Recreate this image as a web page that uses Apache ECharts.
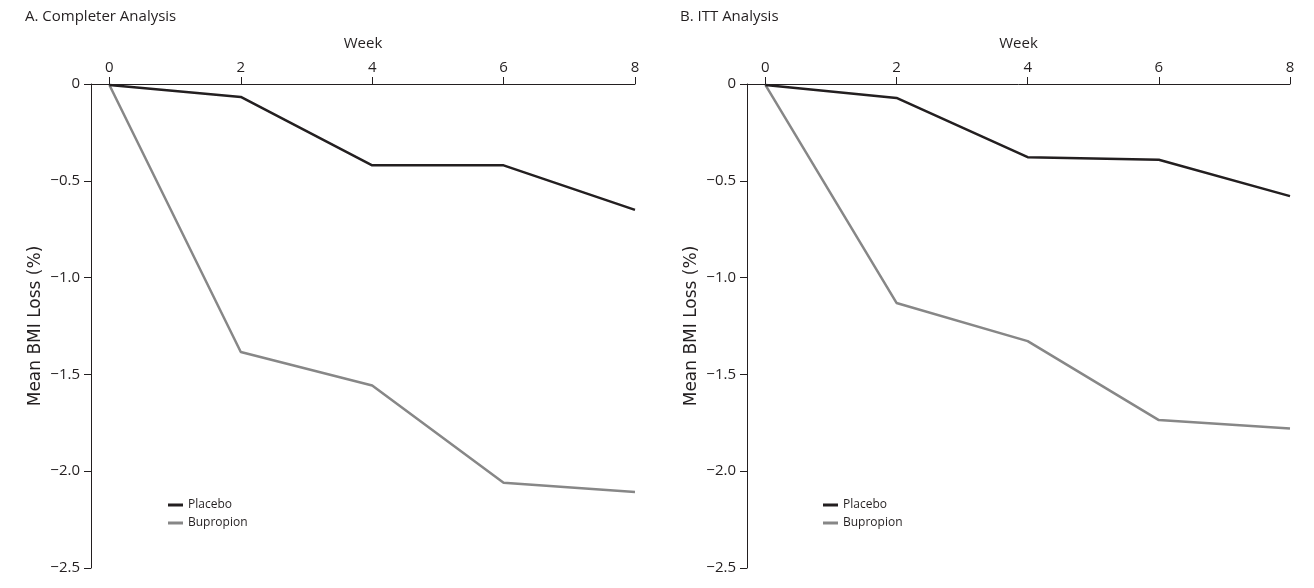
<!DOCTYPE html>
<html><head><meta charset="utf-8">
<script src="https://cdn.jsdelivr.net/npm/echarts@6/dist/echarts.min.js"></script>
<style>html,body{margin:0;padding:0;background:#fff}#c{width:1314px;height:588px}</style>
</head><body><div id="c"></div>
<script>
const weeks = [0, 2, 4, 6, 8];
const yTicks = [0, -0.5, -1.0, -1.5, -2.0, -2.5];
const completerPlacebo = [-0.005, -0.067, -0.42, -0.42, -0.65];
const completerBupropion = [-0.005, -1.384, -1.557, -2.06, -2.107];
const ittPlacebo = [-0.005, -0.072, -0.378, -0.391, -0.579];
const ittBupropion = [-0.005, -1.131, -1.328, -1.736, -1.779];
const panelTitles = ['A. Completer Analysis', 'B. ITT Analysis'];
const seriesNames = ['Placebo', 'Bupropion'];

const FONT = 'Open Sans';
const INK = '#231f20';
const pair = arr => weeks.map((w, i) => [w, arr[i]]);
const chart = echarts.init(document.getElementById('c'));

const grids = [
  {left: 91, top: 84, width: 544, height: 484},
  {left: 747, top: 84, width: 543, height: 484}
];
function xAx(i) {
  return {
    type: 'value', gridIndex: i, position: 'top', min: -0.28, max: 8,
    name: 'Week', nameLocation: 'middle', nameGap: 33,
    nameTextStyle: {fontFamily: FONT, fontSize: 15, color: INK},
    axisLine: {show: true, onZero: false, lineStyle: {color: INK, width: 1}},
    axisTick: {show: true, length: 7, customValues: weeks, lineStyle: {color: INK, width: 1}},
    axisLabel: {customValues: weeks, fontFamily: FONT, fontSize: 15, color: INK, margin: 9},
    splitLine: {show: false}
  };
}
function yAx(i) {
  return {
    type: 'value', gridIndex: i, min: -2.5, max: 0, interval: 0.5,
    name: 'Mean BMI Loss (%)', nameLocation: 'middle', nameGap: 47,
    nameTextStyle: {fontFamily: 'DejaVu Sans', fontSize: 17, color: INK},
    axisLine: {show: true, onZero: false, lineStyle: {color: INK, width: 1}},
    axisTick: {show: true, length: 7, customValues: yTicks, lineStyle: {color: INK, width: 1}},
    axisLabel: {customValues: yTicks, fontFamily: FONT, fontSize: 15, color: INK, margin: 11,
      formatter: v => v === 0 ? '0' : '\u2212' + Math.abs(v).toFixed(1)},
    splitLine: {show: false}
  };
}
const colors = [INK, '#878787'];
const data = [[completerPlacebo, completerBupropion], [ittPlacebo, ittBupropion]];
const series = [];
[0, 1].forEach(p => {
  [0, 1].forEach(s => {
    series.push({
      type: 'line', name: seriesNames[s], xAxisIndex: p, yAxisIndex: p,
      data: pair(data[p][s]), symbol: 'none', z: s === 0 ? 3 : 2,
      lineStyle: {color: colors[s], width: 2.5}, itemStyle: {color: colors[s]}
    });
  });
});
chart.setOption({
  animation: false,
  title: [
    {text: panelTitles[0], left: 20, top: 4, textStyle: {fontFamily: FONT, fontSize: 15, fontWeight: 'normal', color: INK}},
    {text: panelTitles[1], left: 675, top: 4, textStyle: {fontFamily: FONT, fontSize: 15, fontWeight: 'normal', color: INK}}
  ],
  grid: grids,
  xAxis: [xAx(0), xAx(1)],
  yAxis: [yAx(0), yAx(1)],
  legend: [
    {left: 163, top: 494, orient: 'vertical', itemWidth: 15, itemHeight: 3, itemGap: 6, icon: 'rect',
     data: seriesNames, textStyle: {fontFamily: FONT, fontSize: 12, color: INK}, selectedMode: false},
    {left: 818, top: 494, orient: 'vertical', itemWidth: 15, itemHeight: 3, itemGap: 6, icon: 'rect',
     data: seriesNames, textStyle: {fontFamily: FONT, fontSize: 12, color: INK}, selectedMode: false}
  ],
  series: series
});
</script></body></html>
